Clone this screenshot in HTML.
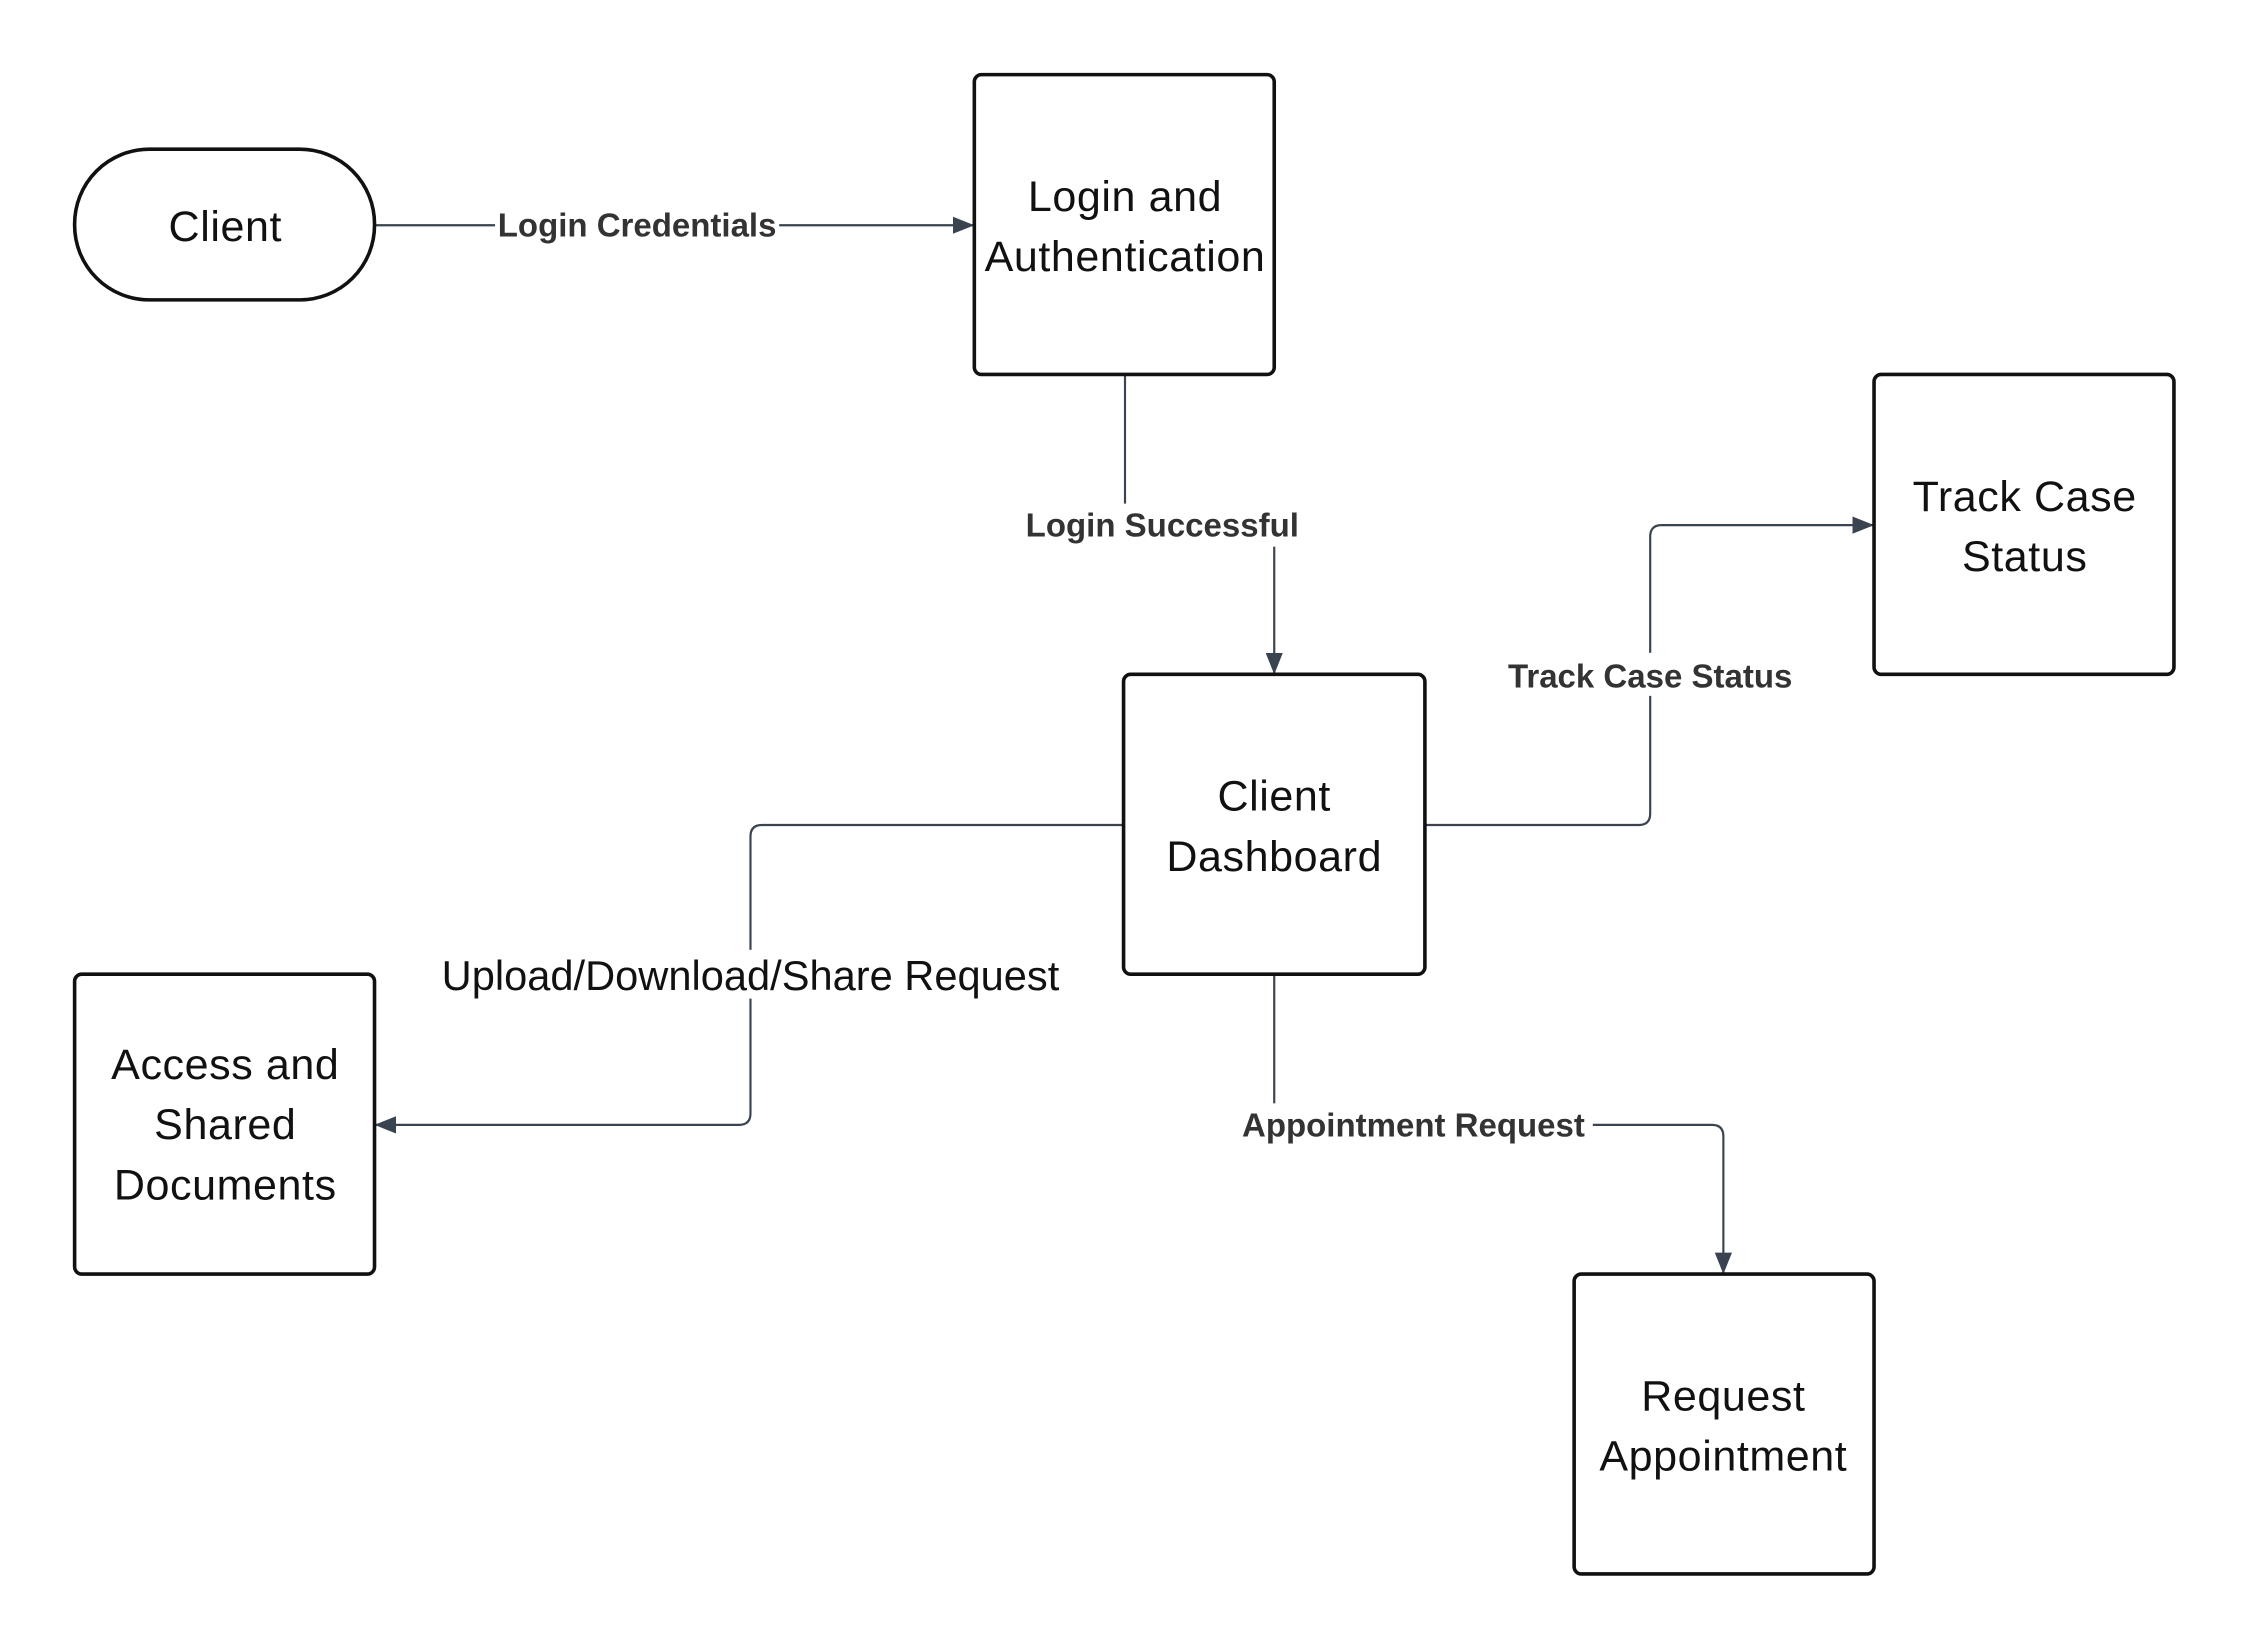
<!DOCTYPE html>
<html><head><meta charset="utf-8"><style>
html,body{margin:0;padding:0;background:#fff;}
svg{display:block;}
text{font-family:"Liberation Sans",sans-serif;fill:#111;}
.n{font-size:30px;letter-spacing:0.4px;}
.l{font-size:23px;font-weight:bold;fill:#333;}
</style></head><body>
<svg width="2250" height="1650" viewBox="0 0 1568 1150" preserveAspectRatio="none" xmlns="http://www.w3.org/2000/svg">
<defs><marker id="a" markerWidth="16" markerHeight="16" refX="14" refY="7" orient="auto" markerUnits="userSpaceOnUse"><path d="M0,1 L15,7 L0,13 Z" fill="#3a4350"/></marker></defs>
<g fill="none" stroke="#3a4350" stroke-width="1.5">
<path d="M261,157 H678" marker-end="url(#a)"/>
<path d="M784,261 V366 H888 V469" marker-end="url(#a)"/>
<path d="M993,575 H1142 Q1150,575 1150,567 V374 Q1150,366 1158,366 H1305" marker-end="url(#a)"/>
<path d="M783,575 H531 Q523,575 523,583 V776 Q523,784 515,784 H262" marker-end="url(#a)"/>
<path d="M888,679 V784 H1193 Q1201,784 1201,792 V887" marker-end="url(#a)"/>
</g>
<g fill="#fff" stroke="#111" stroke-width="2.5">
<rect x="52" y="104" width="209" height="105" rx="52"/>
<rect x="679" y="52" width="209" height="209" rx="5"/>
<rect x="1306" y="261" width="209" height="209" rx="5"/>
<rect x="783" y="470" width="210" height="209" rx="5"/>
<rect x="52" y="679" width="209" height="209" rx="5"/>
<rect x="1097" y="888" width="209" height="209" rx="5"/>
</g>
<g fill="#fff">
<rect x="345" y="143" width="198" height="28"/>
<rect x="710" y="351" width="200" height="30"/>
<rect x="1044" y="455" width="211" height="30"/>
<rect x="300" y="662" width="446" height="34"/>
<rect x="860" y="769" width="250" height="30"/>
</g>
<g text-anchor="middle">
<text class="n" x="157" y="168">Client</text>
<text class="n" x="784" y="147">Login and</text>
<text class="n" x="784" y="189">Authentication</text>
<text class="n" x="1411" y="356">Track Case</text>
<text class="n" x="1411" y="398">Status</text>
<text class="n" x="888" y="565">Client</text>
<text class="n" x="888" y="607">Dashboard</text>
<text class="n" x="157" y="752">Access and</text>
<text class="n" x="157" y="794">Shared</text>
<text class="n" x="157" y="836">Documents</text>
<text class="n" x="1201" y="983">Request</text>
<text class="n" x="1201" y="1025">Appointment</text>
<text class="l" x="444" y="165">Login Credentials</text>
<text class="l" x="810" y="374">Login Successful</text>
<text class="l" x="1150" y="479">Track Case Status</text>
<text style="font-size:29px;fill:#111" x="523" y="690">Upload/Download/Share Request</text>
<text class="l" x="985" y="792">Appointment Request</text>
</g>
</svg>
</body></html>
